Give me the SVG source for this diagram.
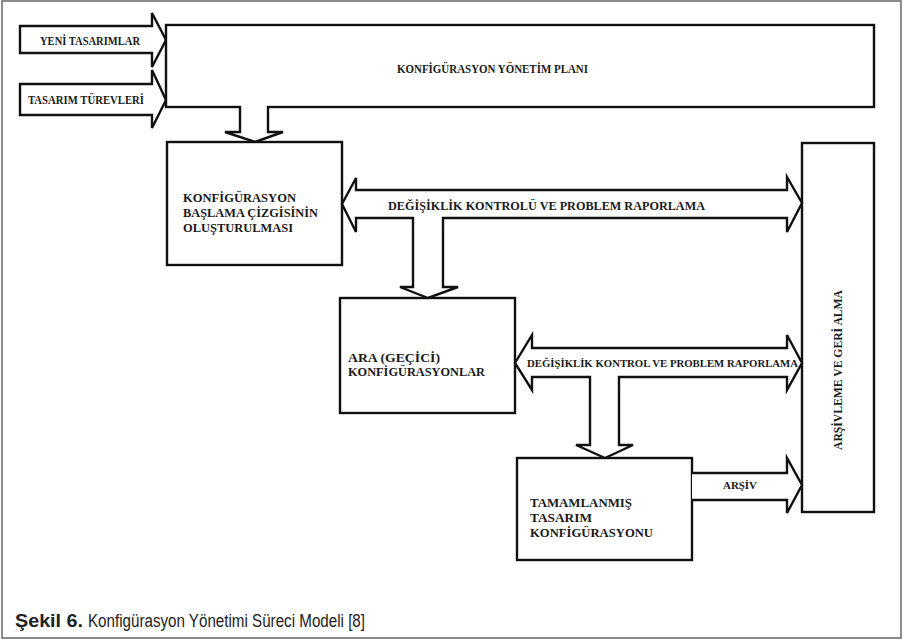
<svg xmlns="http://www.w3.org/2000/svg" width="904" height="640" viewBox="0 0 904 640">
<style>
.sh{fill:#fff;stroke:#111;stroke-width:2.4;stroke-linejoin:miter}
.bx{fill:#fff;stroke:#111;stroke-width:2.4}
.t{font-family:"Liberation Serif","Times New Roman",serif;font-weight:bold;fill:#1a1a1a;font-size:13px}
.s{font-size:11px}
.cap{font-family:"Liberation Sans Narrow","Liberation Sans",Arial,sans-serif;font-size:18px;fill:#222}
</style>
<rect x="2" y="1" width="899" height="637" fill="#fff" stroke="#666" stroke-width="1.5"/>
<g id="connectors">
  <polygon class="sh" points="20,26 152,26 152,13 166,40 152,67 152,53 20,53"/>
  <polygon class="sh" points="20,84 152,84 152,70 166,100 152,128 152,115 20,115"/>
</g>
<g id="plan">
  <rect class="bx" x="166" y="25" width="708" height="82"/>
  <text class="t" x="397" y="73" textLength="191" lengthAdjust="spacingAndGlyphs" font-size="12.5">KONFİGÜRASYON YÖNETİM PLANI</text>
</g>
<g id="connectors2">
  <rect x="241" y="104" width="26" height="6" fill="#fff"/>
  <polyline class="sh" points="240,106 240,132 225,132 255,142 283,132 268,132 268,106"/>
  <text class="t" x="40" y="45" textLength="100" lengthAdjust="spacingAndGlyphs" font-size="11">YENİ TASARIMLAR</text>
  <text class="t" x="28" y="104" textLength="116" lengthAdjust="spacingAndGlyphs" font-size="11">TASARIM TÜREVLERİ</text>
</g>
<g id="baseline">
  <rect class="bx" x="167" y="142" width="175" height="123"/>
  <text class="t" x="183" y="202" textLength="113" lengthAdjust="spacingAndGlyphs">KONFİGÜRASYON</text>
  <text class="t" x="183" y="217" textLength="135" lengthAdjust="spacingAndGlyphs">BAŞLAMA ÇİZGİSİNİN</text>
  <text class="t" x="183" y="232" textLength="110" lengthAdjust="spacingAndGlyphs">OLUŞTURULMASI</text>
</g>
<g id="interim">
  <rect class="bx" x="340" y="298" width="175" height="115"/>
  <text class="t" x="348" y="362" textLength="92" lengthAdjust="spacingAndGlyphs">ARA (GEÇİCİ)</text>
  <text class="t" x="348" y="376" textLength="137" lengthAdjust="spacingAndGlyphs">KONFİGÜRASYONLAR</text>
</g>
<g id="complete">
  <rect class="bx" x="517" y="458" width="175" height="102"/>
  <text class="t" x="530" y="507" textLength="102" lengthAdjust="spacingAndGlyphs">TAMAMLANMIŞ</text>
  <text class="t" x="530" y="522" textLength="62" lengthAdjust="spacingAndGlyphs">TASARIM</text>
  <text class="t" x="530" y="537" textLength="123" lengthAdjust="spacingAndGlyphs">KONFİGÜRASYONU</text>
</g>
<g id="archive">
  <rect class="bx" x="802" y="143" width="72" height="369"/>
  <text class="t" transform="translate(842,370) rotate(-90)" x="-80" y="0" textLength="160" lengthAdjust="spacingAndGlyphs">ARŞİVLEME VE GERİ ALMA</text>
</g>
<g id="connectors3">
  <polygon class="sh" points="342,204 356,178 356,190 787,190 787,177 802,203 787,232 787,218 443,218 443,287 458,287 428,298 400,287 413,287 413,218 356,218 356,232"/>
  <text class="t" x="388" y="210" textLength="317" lengthAdjust="spacingAndGlyphs">DEĞİŞİKLİK KONTROLÜ VE PROBLEM RAPORLAMA</text>
  <polygon class="sh" points="515,363 532,335 532,348 787,348 787,335 802,363 787,390 787,377 619,377 619,445 633,445 605,458 576,445 590,445 590,377 532,377 532,390"/>
  <text class="t s" x="527" y="367" textLength="271" lengthAdjust="spacingAndGlyphs">DEĞİŞİKLİK KONTROL VE PROBLEM RAPORLAMA</text>
  <polyline class="sh" points="692,473 787,473 787,458 802,485 787,513 787,500 692,500"/>
  <text class="t s" x="723" y="489" textLength="34" lengthAdjust="spacingAndGlyphs">ARŞİV</text>
</g>
<text class="cap" x="15" y="627"><tspan font-weight="bold" textLength="68" lengthAdjust="spacingAndGlyphs">Şekil 6.</tspan><tspan x="88" textLength="277" lengthAdjust="spacingAndGlyphs">Konfigürasyon Yönetimi Süreci Modeli [8]</tspan></text>
</svg>
